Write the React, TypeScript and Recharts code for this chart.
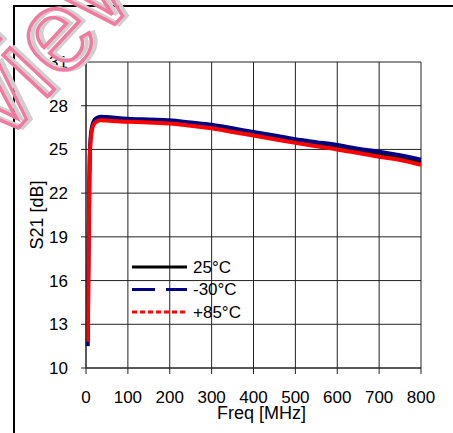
import React from 'react';
import { LineChart, Line, XAxis, YAxis, CartesianGrid, Legend, Label } from 'recharts';

// frequency points in MHz
const freq = [4, 5, 6, 7, 8, 9, 11, 14, 18, 25, 35, 50, 75, 100, 150, 200, 250, 300, 350, 400, 450, 500, 550, 600, 650, 700, 750, 800];

// S21 in dB per temperature
const s21Room = [11.6, 14.4, 17.4, 20.4, 22.9, 24.5, 25.7, 26.4, 26.8, 27.05, 27.12, 27.1, 27.05, 27.0, 26.95, 26.88, 26.72, 26.58, 26.33, 26.08, 25.83, 25.58, 25.38, 25.15, 24.9, 24.68, 24.43, 24.13];
const s21Cold = [11.5, 14.5, 17.5, 20.5, 23.0, 24.6, 25.8, 26.5, 26.9, 27.15, 27.25, 27.22, 27.15, 27.1, 27.05, 27.0, 26.85, 26.7, 26.45, 26.2, 25.95, 25.7, 25.5, 25.3, 25.05, 24.85, 24.6, 24.3];
const s21Hot = [11.8, 14.3, 17.3, 20.3, 22.8, 24.4, 25.6, 26.3, 26.7, 26.92, 27.0, 26.98, 26.93, 26.9, 26.85, 26.78, 26.62, 26.45, 26.2, 25.95, 25.7, 25.45, 25.22, 25.0, 24.75, 24.5, 24.28, 23.95];

const xTicks = [0, 100, 200, 300, 400, 500, 600, 700, 800];
const yTicks = [10, 13, 16, 19, 22, 25, 28, 31];

const seriesList = [
  { key: 'room', name: '25°C', color: '#000000', dash: undefined as string | undefined, width: 3 },
  { key: 'cold', name: '-30°C', color: '#000080', dash: '23 11', width: 4 },
  { key: 'hot', name: '+85°C', color: '#ff0000', dash: '5 3', width: 4 },
];

const data = freq.map((f, i) => ({ f, room: s21Room[i], cold: s21Cold[i], hot: s21Hot[i] }));

const FONT = 'Liberation Sans, Arial, sans-serif';

const LegendBox = () => (
  <svg width={120} height={70} style={{ display: 'block' }}>
    {seriesList.map((s, i) => (
      <g key={s.key}>
        <line x1={2} x2={57} y1={10 + i * 22.5} y2={10 + i * 22.5} stroke={s.color} strokeWidth={3} strokeDasharray={s.dash} />
        <text x={63} y={10 + i * 22.5} dy="0.35em" fontSize={17} fontFamily={FONT} fill="#000">{s.name}</text>
      </g>
    ))}
  </svg>
);

export default function App() {
  return (
    <div style={{ position: 'absolute', left: 0, top: 0, width: 453, height: 433, background: '#fff', overflow: 'hidden' }}>
      <div style={{ position: 'absolute', left: 13, top: 5, width: 450, height: 440, borderTop: '2px solid #000', borderLeft: '2px solid #000' }} />
      <div style={{ position: 'absolute', left: 0, top: 0 }}>
        <LineChart width={453} height={433} data={data} margin={{ top: 62, right: 32, left: 26, bottom: 35 }}>
          <CartesianGrid stroke="#222" strokeWidth={1} />
          <XAxis
            dataKey="f"
            type="number"
            domain={[0, 800]}
            ticks={xTicks}
            height={30}
            tickSize={6}
            tickMargin={17}
            stroke="#222"
            tick={{ fill: '#000', fontSize: 17, fontFamily: FONT }}
          >
            <Label value="Freq [MHz]" position="bottom" offset={8} dx={8} fill="#000" fontSize={18} fontFamily={FONT} />
          </XAxis>
          <YAxis
            type="number"
            domain={[10, 31]}
            ticks={yTicks}
            width={60}
            tickSize={5}
            tickMargin={13}
            stroke="#222"
            tick={{ fill: '#000', fontSize: 17, fontFamily: FONT }}
          >
            <Label value="S21 [dB]" angle={-90} position="insideLeft" offset={0} dx={11} fill="#000" fontSize={18} fontFamily={FONT} style={{ textAnchor: 'middle' }} />
          </YAxis>
          <Legend
            layout="vertical"
            align="center"
            verticalAlign="middle"
            content={<LegendBox />}
            wrapperStyle={{ position: 'absolute', left: 130, top: 257, width: 120 }}
          />
          {seriesList.map((s) => (
            <Line
              key={s.key}
              dataKey={s.key}
              name={s.name}
              type="monotone"
              stroke={s.color}
              strokeWidth={s.width}
              dot={false}
              isAnimationActive={false}
            />
          ))}
        </LineChart>
      </div>
      <svg width={453} height={433} style={{ position: 'absolute', left: 0, top: 0, pointerEvents: 'none' }}>
        <g transform="translate(160, -24) rotate(-47)">
          <text x={3} y={3} textAnchor="end" fontSize={115} fontFamily={FONT} fill="none" stroke="#cfcfcf" strokeWidth={4}>Preview</text>
          <text x={0} y={0} textAnchor="end" fontSize={115} fontFamily={FONT} fill="none" stroke="#f27aa0" strokeWidth={3.5}>Preview</text>
        </g>
      </svg>
    </div>
  );
}
